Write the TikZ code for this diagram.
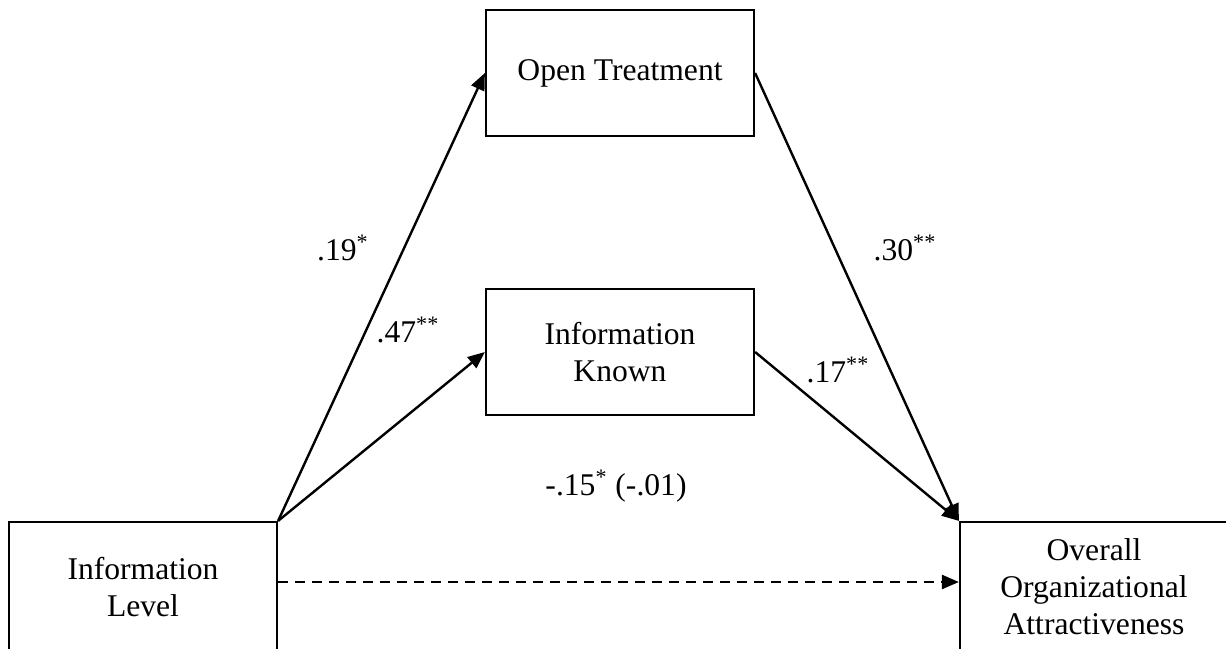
\documentclass[tikz,border=0pt]{standalone}
\usepackage{fontspec}
\setmainfont{Liberation Serif}
\usetikzlibrary{arrows.meta, positioning}

\begin{document}
\begin{tikzpicture}[x = 0.5pt, y = -0.5pt,
    box/.style = {draw, line width = 1.1pt, minimum width = 134pt, minimum height = 63pt,
        align = center, inner sep = 0pt, font = \fontsize{15.8}{18.5}\selectfont},
    link/.style = {line width = 1.2pt, -{Triangle[length = 8.5pt, width = 7pt]}},
    coef/.style = {font = \fontsize{15.8}{18.5}\selectfont}]
    % Area del disegno
    \useasboundingbox (0,0) rectangle (1226,648);
    % Variabili
    \node[box, minimum height = 65pt] (level) at (143,587) {Information\\Level};
    \node[box] (open) at (620,73) {Open Treatment};
    \node[box] (known) at (620,352) {Information\\Known};
    \node[box, minimum height = 65pt] (overall) at (1094,587) {Overall\\Organizational\\Attractiveness};
    % Percorsi indiretti
    \draw[link] (level.north east) -- (open.west);
    \draw[link] (level.north east) -- (known.west);
    \draw[link] (open.east) -- (overall.north west);
    \draw[link] (known.east) -- (overall.north west);
    % Effetto diretto
    \draw[link, dash pattern = on 5pt off 3.5pt] ([yshift = 2.5pt]level.east) -- ([yshift = 2.5pt]overall.west);
    % Coefficienti
    \node[coef] (c19) at (343,248) {.19\textsuperscript{*}};
    \node[coef] (c47) at (408,330) {.47\textsuperscript{**}};
    \node[coef] (c30) at (905,248) {.30\textsuperscript{**}};
    \node[coef] (c17) at (838,370) {.17\textsuperscript{**}};
    \node[coef] (c15) at (616,486) {-.15\textsuperscript{*} (-.01)};
\end{tikzpicture}
\end{document}
